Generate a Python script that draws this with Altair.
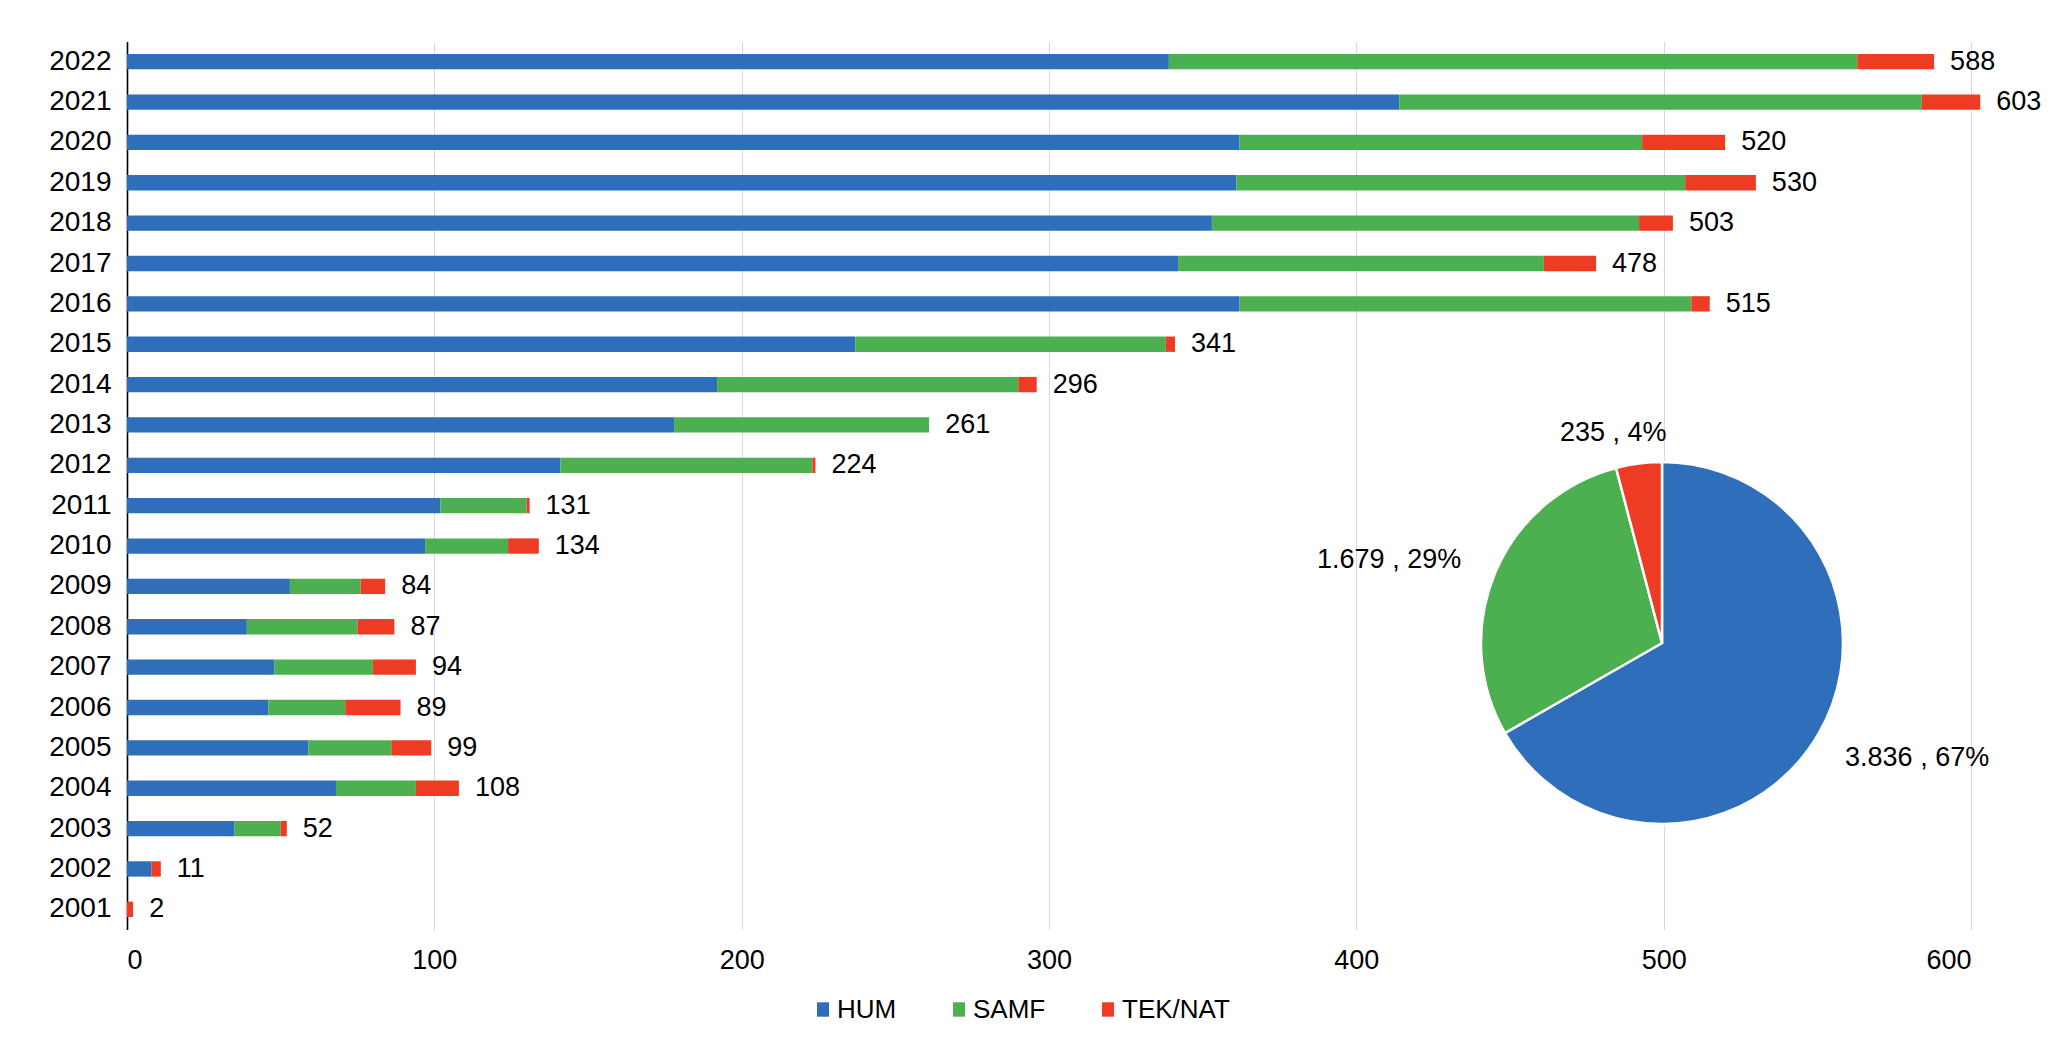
import altair as alt
import pandas as pd

FONT = "Liberation Sans"

years = [str(y) for y in range(2022, 2000, -1)]
hum  = [339, 414, 362, 361, 353, 342, 362, 237, 192, 178, 141, 102, 97, 53, 39, 48, 46, 59, 68, 35, 8, 0]
samf = [224, 170, 131, 146, 139, 119, 147, 101, 98, 83, 82, 28, 27, 23, 36, 32, 25, 27, 26, 15, 0, 0]
tek  = [25, 19, 27, 23, 11, 17, 6, 3, 6, 0, 1, 1, 10, 8, 12, 14, 18, 13, 14, 2, 3, 2]
categories = ["HUM", "SAMF", "TEK/NAT"]
pie_values = [3836, 1679, 235]
x_ticks = [0, 100, 200, 300, 400, 500, 600]
colors = ["#2F6EBA", "#4CAF50", "#EE3B24"]

rows = []
for i, y in enumerate(years):
    for j, (c, arr) in enumerate(zip(categories, [hum, samf, tek])):
        rows.append({"year": y, "cat": c, "value": arr[i], "idx": j})
df = pd.DataFrame(rows)

pie_total = sum(pie_values)
pie_labels = [f"{v:,}".replace(",", ".") + " , " + f"{round(100 * v / pie_total)}%" for v in pie_values]
pie_df = pd.DataFrame({"cat": categories, "value": pie_values, "idx": [0, 1, 2], "label": pie_labels})

W, H = 1844, 888
CX, CY, R = 1535, 601.5, 181

color_enc = alt.Color(
    "cat:N",
    scale=alt.Scale(domain=categories, range=colors),
    legend=alt.Legend(
        title=None, orient="none", direction="horizontal",
        legendX=683, legendY=955, symbolType="M-0.5,-0.6H0.5V0.6H-0.5Z",
        symbolSize=576, symbolStrokeWidth=0, labelOffset=1, columnPadding=49,
        labelFontSize=26, labelFont=FONT, labelColor="black", padding=0,
    ),
)

bars = alt.Chart(df).mark_bar().encode(
    x=alt.X(
        "value:Q", stack="zero",
        scale=alt.Scale(domain=[0, 600], nice=False),
        axis=alt.Axis(
            values=x_ticks, title=None, grid=True, gridColor="#d9d9d9", gridWidth=1,
            domain=False, ticks=False, labelPadding=18, labelFontSize=27,
            labelFont=FONT, labelColor="black",
        ),
    ),
    y=alt.Y(
        "year:N", sort=years,
        scale=alt.Scale(paddingInner=0.62, paddingOuter=0.31),
        axis=alt.Axis(
            title=None, ticks=False, domainColor="black", domainWidth=1.6,
            labelPadding=16, labelFontSize=28, labelFont=FONT, labelColor="black",
        ),
    ),
    color=color_enc,
    order=alt.Order("idx:Q"),
)

totals = alt.Chart(df).transform_aggregate(
    total="sum(value)", groupby=["year"]
).mark_text(
    align="left", baseline="middle", dx=16, fontSize=27, font=FONT, color="black"
).encode(
    x="total:Q",
    y=alt.Y("year:N", sort=years),
    text="total:Q",
)

arc = alt.Chart(pie_df).mark_arc(
    outerRadius=R, stroke="white", strokeWidth=2.5
).encode(
    theta=alt.Theta("value:Q", stack=True),
    color=color_enc,
    order=alt.Order("idx:Q"),
    x=alt.value(CX),
    y=alt.value(CY),
)

pie_text = alt.Chart(pie_df).transform_joinaggregate(
    total="sum(value)"
).transform_window(
    cum="sum(value)", sort=[alt.SortField("idx")], frame=[None, 0]
).transform_calculate(
    mid="(datum.cum - datum.value / 2) / datum.total * 2 * PI - 0.1",
).transform_calculate(
    lr=f"{R} + 38 + 0.5 * length(datum.label) * 13.5 * abs(sin(datum.mid)) - 16 * abs(cos(datum.mid))",
).mark_text(
    fontSize=27, font=FONT, color="black", align="center", baseline="middle"
).encode(
    theta=alt.Theta("mid:Q", scale=None, stack=False),
    radius=alt.Radius("lr:Q", scale=None),
    text="label:N",
    x=alt.value(CX),
    y=alt.value(CY),
)

chart = alt.layer(bars, totals, arc, pie_text).properties(
    width=W, height=H,
    autosize=alt.AutoSizeParams(type="none"),
    padding={"left": 119, "top": 33.5, "right": 70, "bottom": 100},
    background="white",
).configure_view(stroke=None)

chart.save("out.html", embed_options={"renderer": "svg", "actions": False})
